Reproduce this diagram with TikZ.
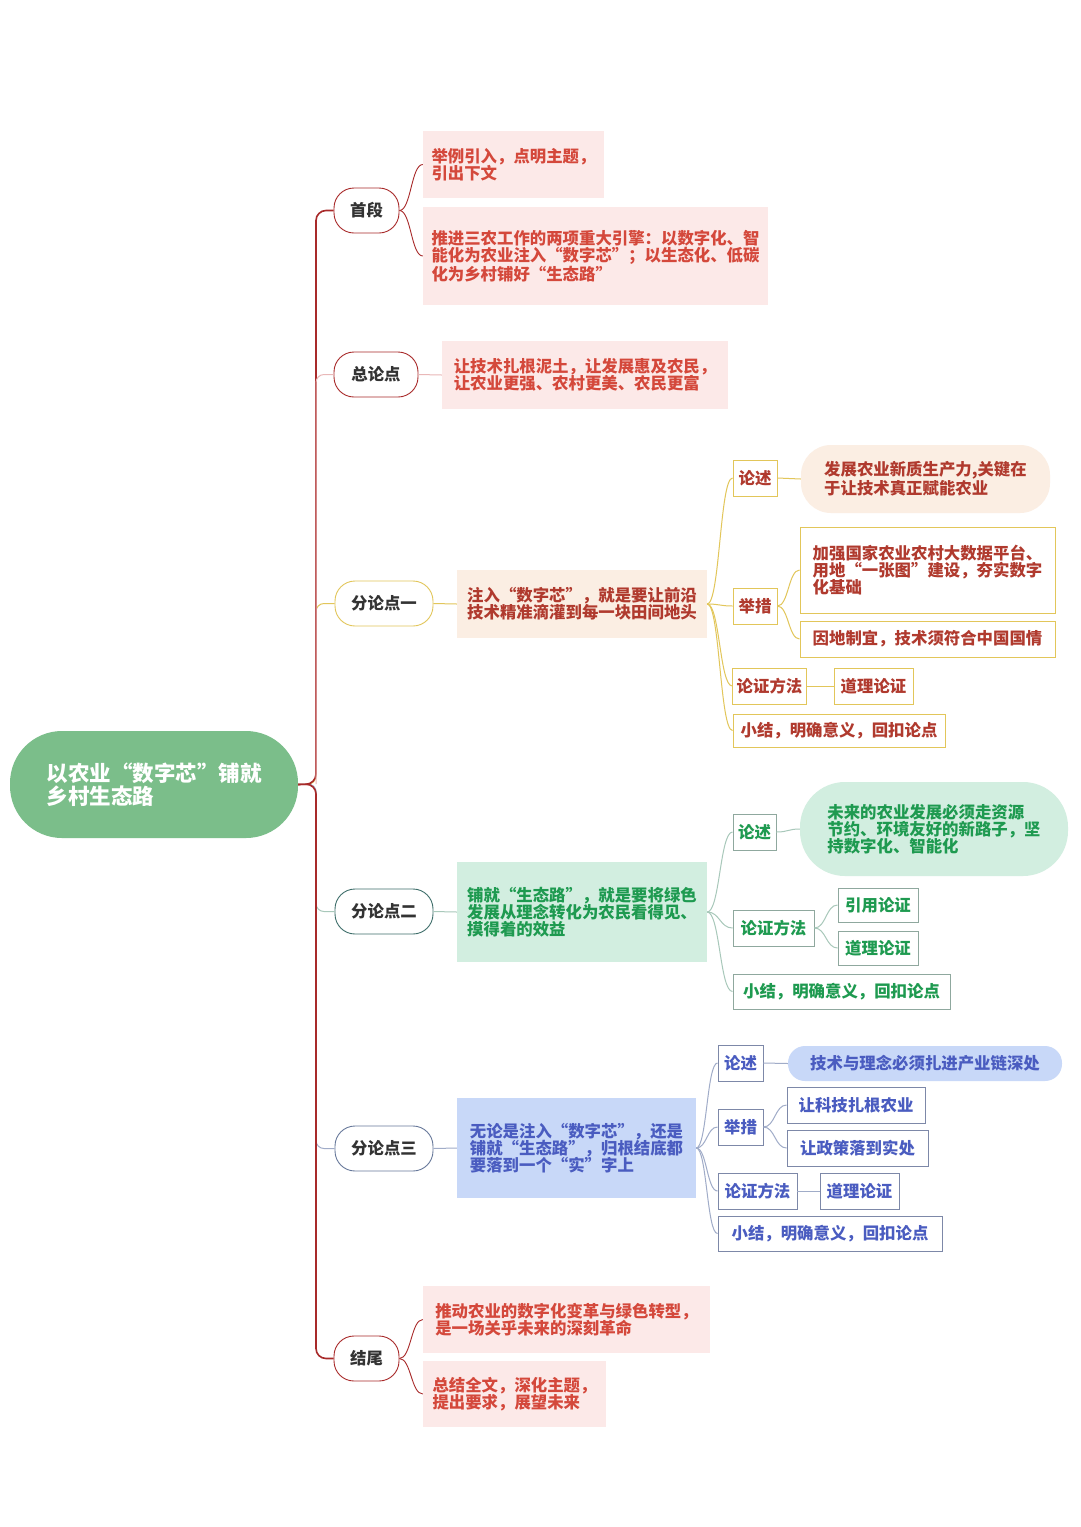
\documentclass[tikz,border=0pt]{standalone}
\usepackage{fontspec}
\setmainfont{Noto Sans CJK SC}
\usetikzlibrary{calc}
\definecolor{redtxt}{HTML}{D4483B}
\definecolor{pinkfill}{HTML}{FCE9E8}
\definecolor{darkred}{HTML}{A82A2A}
\definecolor{pinkline}{HTML}{E9B8B8}
\definecolor{yellowline}{HTML}{E2C65A}
\definecolor{peachfill}{HTML}{FBEEE3}
\definecolor{ptxt}{HTML}{B03A2E}
\definecolor{greenfill}{HTML}{D2EEE0}
\definecolor{greentxt}{HTML}{1E9A50}
\definecolor{greenline}{HTML}{A8C8BA}
\definecolor{greenborder}{HTML}{8FA89E}
\definecolor{ptwoborder}{HTML}{3E6E6A}
\definecolor{bluefill}{HTML}{C8D8F8}
\definecolor{bluetxt}{HTML}{4A5CC0}
\definecolor{blueline}{HTML}{A0ACC8}
\definecolor{blueborder}{HTML}{7D88A8}
\definecolor{pthreeborder}{HTML}{67789A}
\definecolor{rootgreen}{HTML}{7BBE8A}
\definecolor{lvltxt}{HTML}{333333}
\newcommand\mkbox[7]{%
  \pgfmathsetmacro\mkw{#5-#3}\pgfmathsetmacro\mkh{#6-#4}%
  \pgfmathsetmacro\mkx{(#3+#5)/2}\pgfmathsetmacro\mky{(#4+#6)/2}%
  \node[#1, minimum width=\mkw pt, minimum height=\mkh pt] (#2) at (\mkx,\mky) {#7};}
\newcommand\cvc[3]{\draw[#1] let \p1=(#2.east), \p2=(#3.west) in
  (\p1) .. controls ({(\x1+\x2)/2},\y1) and ({(\x1+\x2)/2},\y2) .. (\p2);}
\begin{document}
\begin{tikzpicture}[x=1pt,y=-1pt,
  base/.style={rectangle, inner xsep=4pt, inner ysep=2pt, align=left,
    font=\fontsize{16.4}{17.2}\selectfont\bfseries},
  rootbox/.style={base, fill=rootgreen, rounded corners=52pt, text=white,
    font=\fontsize{21.5}{23}\selectfont\bfseries},
  lvl/.style={base, draw=#1, fill=white, rounded corners=20pt, line width=0.9pt,
    text=lvltxt, align=center},
  redbox/.style={base, fill=pinkfill, text=redtxt},
  ybox/.style={base, fill=peachfill, text=ptxt},
  ychild/.style={base, draw=yellowline, fill=white, text=ptxt, line width=0.9pt},
  gbox/.style={base, fill=greenfill, text=greentxt},
  gchild/.style={base, draw=greenborder, fill=white, text=greentxt, line width=0.9pt},
  bbox/.style={base, fill=bluefill, text=bluetxt},
  bchild/.style={base, draw=blueborder, fill=white, text=bluetxt, line width=0.9pt},
  redln/.style={draw=darkred, line width=1.6pt},
  redthin/.style={draw=darkred, line width=0.9pt},
  yln/.style={draw=yellowline, line width=1pt},
  gln/.style={draw=greenline, line width=1pt},
  bln/.style={draw=blueline, line width=1pt},
  pln/.style={draw=pinkline, line width=1pt}
]
\fill[white] (0,0) rectangle (1080,1527);
\useasboundingbox (0,0) rectangle (1080,1527);

% root
\mkbox{rootbox}{root}{10}{731}{298}{838}{以农业“数字芯”铺就\\乡村生态路}
\coordinate (tr) at (316,784);

% level 1
\mkbox{lvl=darkred}{sa}{334}{188}{399}{233}{首段}
\mkbox{lvl=darkred}{sb}{334}{352}{418}{397}{总论点}
\mkbox{lvl=yellowline}{pa}{335}{581}{433}{626}{分论点一}
\mkbox{lvl=ptwoborder}{pb}{335}{889}{433}{934}{分论点二}
\mkbox{lvl=pthreeborder}{pc}{335}{1126}{433}{1171}{分论点三}
\mkbox{lvl=darkred}{ea}{334}{1336}{399}{1381}{结尾}

% trunk connectors
\draw[yln, rounded corners=8pt] (root.east) -- (tr) |- (pa.west);
\draw[gln, rounded corners=8pt] (root.east) -- (tr) |- (pb.west);
\draw[bln, rounded corners=8pt] (root.east) -- (tr) |- (pc.west);
\draw[redln, rounded corners=10pt] (root.east) -- (tr) |- (sa.west);
\draw[redln, rounded corners=10pt] (root.east) -- (tr) |- (ea.west);
\draw[pln, rounded corners=8pt] (tr) |- (sb.west);

% 首段
\mkbox{redbox}{saa}{423}{131}{604}{198}{举例引入，点明主题，\\引出下文}
\mkbox{redbox}{sab}{423}{207}{768}{305}{推进三农工作的两项重大引擎：以数字化、智\\能化为农业注入“数字芯”；以生态化、低碳\\化为乡村铺好“生态路”}
\cvc{redthin}{sa}{saa}
\cvc{redthin}{sa}{sab}

% 总论点
\mkbox{redbox}{sba}{442}{341}{728}{409}{让技术扎根泥土，让发展惠及农民，\\让农业更强、农村更美、农民更富}
\draw[pln] (sb.east) -- (sba.west);

% 分论点一
\mkbox{ybox}{pam}{457}{570}{707}{638}{注入“数字芯”，就是要让前沿\\技术精准滴灌到每一块田间地头}
\draw[yln] (pa.east) -- (pam.west);
\mkbox{ychild}{paa}{733}{460}{777}{496}{论述}
\mkbox{ybox, rounded corners=30pt}{paaa}{801}{445}{1050}{513}{发展农业新质生产力,关键在\\于让技术真正赋能农业}
\mkbox{ychild}{pab}{733}{588}{777}{624}{举措}
\mkbox{ychild}{paba}{800}{527}{1055}{613}{加强国家农业农村大数据平台、\\用地“一张图”建设，夯实数字\\化基础}
\mkbox{ychild}{pabb}{800}{621}{1055}{657}{因地制宜，技术须符合中国国情}
\mkbox{ychild}{pac}{733}{668}{806}{704}{论证方法}
\mkbox{ychild}{paca}{834}{668}{913}{704}{道理论证}
\mkbox{ychild}{pad}{733}{714}{945}{747}{小结，明确意义，回扣论点}
\cvc{yln}{pam}{paa}
\cvc{yln}{pam}{pab}
\cvc{yln}{pam}{pac}
\cvc{yln}{pam}{pad}
\cvc{yln}{paa}{paaa}
\cvc{yln}{pab}{paba}
\cvc{yln}{pab}{pabb}
\cvc{yln}{pac}{paca}

% 分论点二
\mkbox{gbox}{pbm}{457}{862}{707}{962}{铺就“生态路”，就是要将绿色\\发展从理念转化为农民看得见、\\摸得着的效益}
\draw[gln] (pb.east) -- (pbm.west);
\mkbox{gchild}{pba}{733}{814}{776}{850}{论述}
\mkbox{gbox, rounded corners=45pt}{pbaa}{800}{782}{1068}{876}{未来的农业发展必须走资源\\节约、环境友好的新路子，坚\\持数字化、智能化}
\mkbox{gchild}{pbc}{733}{910}{814}{946}{论证方法}
\mkbox{gchild}{pbca}{838}{888}{918}{922}{引用论证}
\mkbox{gchild}{pbcb}{838}{931}{918}{965}{道理论证}
\mkbox{gchild}{pbd}{733}{974}{950}{1009}{小结，明确意义，回扣论点}
\cvc{gln}{pbm}{pba}
\cvc{gln}{pbm}{pbc}
\cvc{gln}{pbm}{pbd}
\cvc{gln}{pba}{pbaa}
\cvc{gln}{pbc}{pbca}
\cvc{gln}{pbc}{pbcb}

% 分论点三
\mkbox{bbox}{pcm}{457}{1098}{696}{1198}{无论是注入“数字芯”，还是\\铺就“生态路”，归根结底都\\要落到一个“实”字上}
\draw[bln] (pc.east) -- (pcm.west);
\mkbox{bchild}{pca}{718}{1045}{763}{1081}{论述}
\mkbox{bbox, rounded corners=17pt}{pcaa}{788}{1046}{1062}{1081}{技术与理念必须扎进产业链深处}
\mkbox{bchild}{pcb}{718}{1109}{763}{1145}{举措}
\mkbox{bchild}{pcba}{787}{1087}{925}{1123}{让科技扎根农业}
\mkbox{bchild}{pcbb}{787}{1130}{928}{1166}{让政策落到实处}
\mkbox{bchild}{pcc}{718}{1173}{797}{1209}{论证方法}
\mkbox{bchild}{pcca}{820}{1173}{899}{1209}{道理论证}
\mkbox{bchild}{pcd}{718}{1216}{942}{1251}{小结，明确意义，回扣论点}
\cvc{bln}{pcm}{pca}
\cvc{bln}{pcm}{pcb}
\cvc{bln}{pcm}{pcc}
\cvc{bln}{pcm}{pcd}
\cvc{bln}{pca}{pcaa}
\cvc{bln}{pcb}{pcba}
\cvc{bln}{pcb}{pcbb}
\cvc{bln}{pcc}{pcca}

% 结尾
\mkbox{redbox}{eaa}{423}{1286}{710}{1353}{推动农业的数字化变革与绿色转型，\\是一场关乎未来的深刻革命}
\mkbox{redbox}{eab}{423}{1361}{606}{1427}{总结全文，深化主题，\\提出要求，展望未来}
\cvc{redthin}{ea}{eaa}
\cvc{redthin}{ea}{eab}
\end{tikzpicture}
\end{document}
